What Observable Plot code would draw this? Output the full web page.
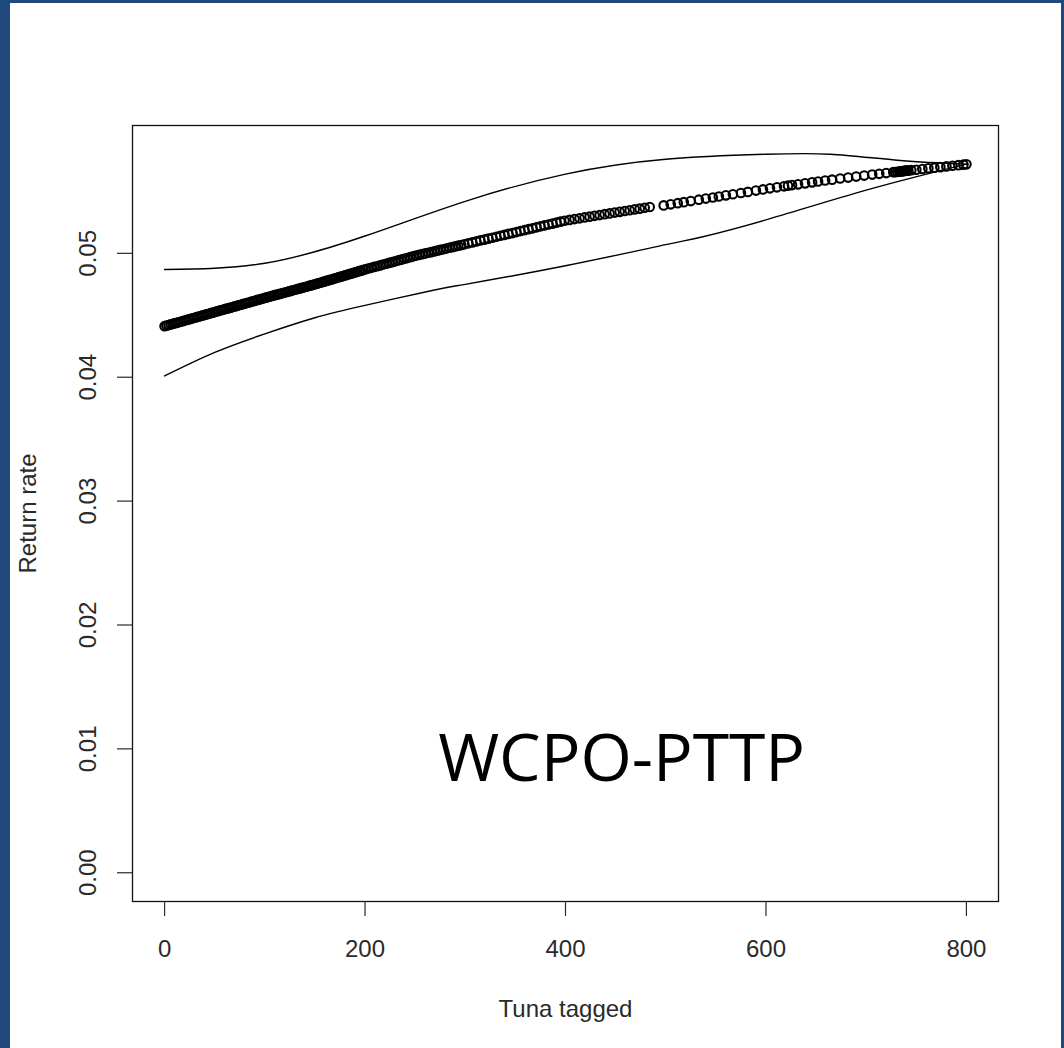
<!DOCTYPE html>
<html><head><meta charset="utf-8">
<script src="https://cdn.jsdelivr.net/npm/d3@7"></script>
<script src="https://cdn.jsdelivr.net/npm/@observablehq/plot@0.6"></script>
<style>
html,body{margin:0;padding:0;background:#1F497D;width:1064px;height:1048px;overflow:hidden}
#panel{position:absolute;left:10px;top:3px;width:1051px;height:1045px;background:#fff}
#chart{position:absolute;left:0;top:0}
</style></head><body><div id="panel"></div><div id="chart"></div>
<script>
// Observed points: tuna tagged (x) and fitted return rate (in units of 1e-5)
const tagged = [
0,2,4,6,8,10,12,14,16,18,20,22,24,26,28,30,32,34,36,38,40,42,44,46,48,50,52,54,56,58,60,62,64,66,68,70,72,74,76,78,80,82,84,86,88,90,92,94,96,98,
100,102,104,106,108,110,112,114,116,118,120,122,124,126,128,130,132,134,136,138,140,142,144,146,148,150,152,154,156,158,160,162,164,166,168,170,172,174,176,178,180,182,184,186,188,190,192,194,196,198,
200,203,206,209,212,215,218,221,224,227,230,233,236,239,242,245,248,251,254,257,260,263,266,269,272,275,278,281,284,287,290,293,296,299,
303,307,311,315,319,323,327,331,335,339,343,347,351,355,359,363,367,371,375,379,383,387,391,395,399,
404,409,414,419,424,429,434,439,444,449,454,459,464,469,474,479,484,
498,505,512,518,525,533,540,547,553,560,567,575,582,590,597,604,611,618,622,626,632,639,646,652,659,666,674,682,690,698,706,713,720,727,729,731,733,734,735,736,737,738,739,740,741,742,745,750,756,762,768,774,780,786,792,797,800];
const rate1e5 = [
4412,4417,4421,4426,4430,4435,4439,4444,4448,4453,4458,4462,4467,4471,4476,4480,4485,4490,4494,4499,4503,4508,4512,4517,4521,4526,4531,4535,4540,4544,4549,4553,4558,4562,4567,4572,4576,4581,4585,4590,4594,4599,4603,4608,4613,4617,4622,4626,4631,4635,
4640,4644,4649,4653,4658,4662,4666,4671,4675,4680,4684,4688,4693,4697,4702,4706,4710,4715,4719,4724,4728,4732,4737,4741,4746,4750,4755,4760,4764,4769,4774,4779,4784,4788,4793,4798,4803,4808,4812,4817,4822,4827,4832,4836,4841,4846,4851,4856,4860,4865,
4870,4877,4883,4890,4896,4903,4910,4916,4923,4929,4936,4943,4949,4956,4962,4969,4976,4982,4988,4993,4999,5005,5010,5016,5022,5028,5033,5039,5045,5050,5056,5062,5067,5073,
5081,5088,5096,5104,5111,5119,5126,5134,5142,5149,5157,5164,5172,5180,5187,5195,5202,5210,5218,5225,5233,5240,5248,5256,5263,
5270,5277,5283,5290,5296,5303,5309,5316,5322,5329,5335,5342,5348,5355,5361,5368,5374,
5387,5396,5405,5413,5422,5433,5442,5451,5459,5468,5477,5487,5496,5507,5516,5525,5533,5541,5546,5551,5557,5565,5573,5580,5588,5595,5604,5612,5620,5628,5636,5642,5648,5655,5656,5658,5660,5661,5662,5663,5664,5665,5666,5667,5667,5668,5671,5675,5681,5686,5691,5696,5702,5707,5712,5716,5719];

// Confidence band curves
const upperX = [0,100,200,300,400,500,600,664,734,800];
const upperY = [0.0487,0.0492,0.0514,0.0542,0.0564,0.0576,0.0580,0.0580,0.0575,0.0572];
const lowerX = [0,50,100,150,200,267,300,400,500,535,600,700,800];
const lowerY = [0.0401,0.0420,0.0435,0.0448,0.0458,0.0470,0.0475,0.0490,0.0507,0.0513,0.0527,0.0551,0.0572];

const xTicks = [0,200,400,600,800];
const yTicks = [0,0.01,0.02,0.03,0.04,0.05];
const xLabel = "Tuna tagged";
const yLabel = "Return rate";
const note = "WCPO-PTTP";
const noteAt = {x: 456, y: 0.0091};

const points = tagged.map((x,i)=>({x, y: rate1e5[i] / 1e5}));
const upper = upperX.map((x,i)=>({x, y: upperY[i]}));
const lower = lowerX.map((x,i)=>({x, y: lowerY[i]}));

const ink = "#2a2a2a";
const chart = Plot.plot({
  width: 1064, height: 1048,
  marginLeft: 132, marginRight: 66, marginTop: 125, marginBottom: 147,
  style: {background: "transparent", fontFamily: "'Liberation Sans', Arial, sans-serif", color: ink},
  x: {domain: [-32, 832]},
  y: {domain: [-0.00232, 0.06032]},
  marks: [
    Plot.frame({stroke: "#111", strokeWidth: 1.3}),
    Plot.axisX({ticks: xTicks, tickSize: 15, tickFormat: () => "", label: null, stroke: ink, strokeWidth: 1.2}),
    Plot.axisY({ticks: yTicks, tickSize: 15, tickFormat: () => "", label: null, stroke: ink, strokeWidth: 1.2}),
    Plot.text(xTicks, {x: d => d, frameAnchor: "bottom", dy: 48, lineAnchor: "middle", textAnchor: "middle", text: d => String(d), fontSize: 24, fill: ink}),
    Plot.text(yTicks, {y: d => d, frameAnchor: "left", dx: -44, rotate: -90, lineAnchor: "middle", textAnchor: "middle", text: d => d.toFixed(2), fontSize: 24, fill: ink}),
    Plot.text([xLabel], {frameAnchor: "bottom", dy: 108, lineAnchor: "middle", textAnchor: "middle", text: d => d, fontSize: 24, fill: ink}),
    Plot.text([yLabel], {frameAnchor: "left", dx: -104, rotate: -90, lineAnchor: "middle", textAnchor: "middle", text: d => d, fontSize: 24, fill: ink}),
    Plot.line(upper, {x: "x", y: "y", curve: "natural", stroke: "#000", strokeWidth: 1.4}),
    Plot.line(lower, {x: "x", y: "y", curve: "natural", stroke: "#000", strokeWidth: 1.4}),
    Plot.dot(points, {x: "x", y: "y", r: 4.3, stroke: "#000", strokeWidth: 2.1, fill: "none"}),
    Plot.text([note], {x: () => noteAt.x, y: () => noteAt.y, text: d => d, fontSize: 66, fontFamily: "'Open Sans', sans-serif", fill: "#000"})
  ]
});
document.getElementById("chart").appendChild(chart);
</script>
</body></html>
